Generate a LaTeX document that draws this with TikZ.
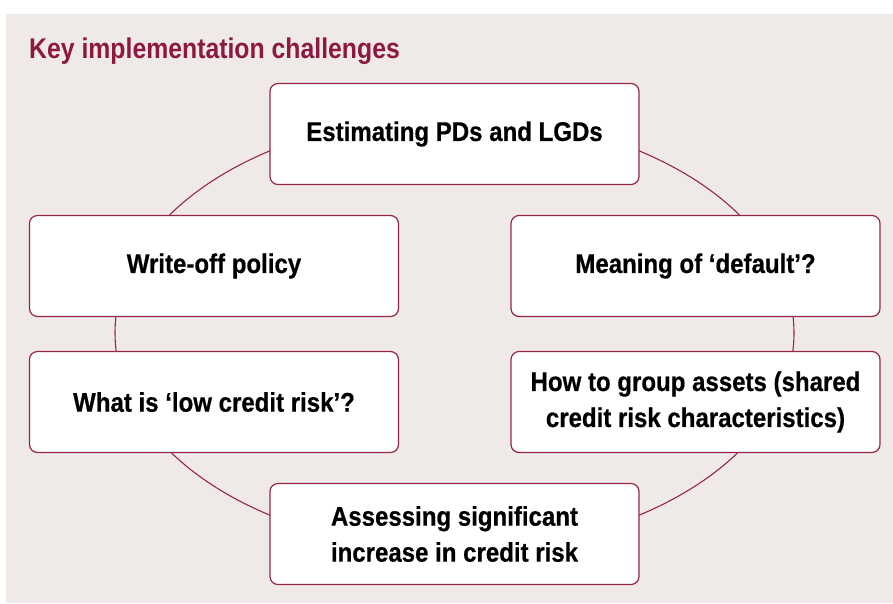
\documentclass[tikz,border=0pt]{standalone}
\usepackage{fontspec}
\setmainfont{Liberation Sans}[FakeStretch=0.89,FakeBold=0.6]
\newfontfamily\titlefont{Liberation Sans}[FakeStretch=0.87]
\definecolor{panel}{RGB}{239,234,231}
\definecolor{maroon}{RGB}{150,38,72}
\definecolor{titlecol}{RGB}{140,26,64}
\tikzset{
  box/.style={draw=maroon, line width=1.2pt, fill=white, rounded corners=8pt,
    minimum width=369pt, minimum height=101pt, align=center, inner sep=0pt,
    font=\fontsize{27}{36}\selectfont\bfseries, text=black},
  ring/.style={draw=maroon, line width=1.1pt}
}
\begin{document}
\begin{tikzpicture}[x=1pt,y=-1pt]
\useasboundingbox (0,0) rectangle (893,603);
\fill[panel] (6,14) rectangle (893,603);
\node[anchor=base west, text=titlecol, font=\titlefont\fontsize{28.5}{30}\selectfont\bfseries, inner sep=0pt] (title) at (29,58) {Key implementation challenges};
\draw[ring] (454.5,333) ellipse [x radius=339.5pt, y radius=217pt];
\node[box] (pd) at (454.5,134) {\raisebox{-2pt}{Estimating PDs and LGDs}};
\node[box] (wo) at (214,266) {\raisebox{-2pt}{Write-off policy}};
\node[box] (lc) at (214,402) {\raisebox{-2pt}{What is ‘low credit risk’?}};
\node[box] (md) at (695.5,266) {\raisebox{-2pt}{Meaning of ‘default’?}};
\node[box] (ga) at (695.5,402) {How to group assets (shared\\credit risk characteristics)};
\node[box] (si) at (454.5,534) {Assessing significant\\increase in credit risk};
\end{tikzpicture}
\end{document}
